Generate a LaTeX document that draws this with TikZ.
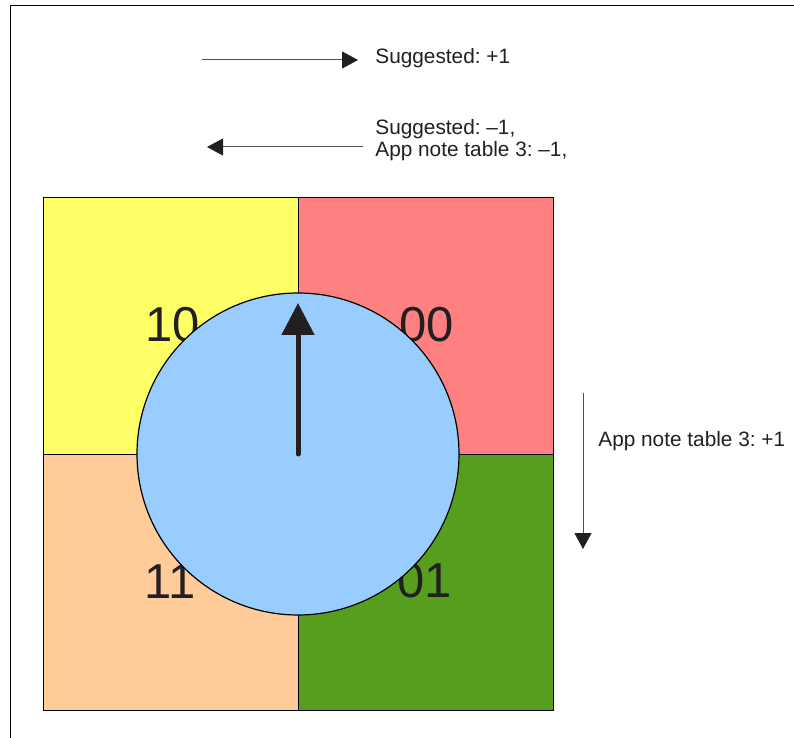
\documentclass[tikz,border=0pt]{standalone}
\usepackage{fontspec}
\setmainfont{Liberation Sans}
\usetikzlibrary{arrows.meta}
\definecolor{quadyellow}{RGB}{255,255,102}
\definecolor{quadred}{RGB}{255,128,128}
\definecolor{quadpeach}{RGB}{255,204,153}
\definecolor{quadgreen}{RGB}{88,158,30}
\definecolor{dialblue}{RGB}{153,204,255}
\definecolor{inkgray}{RGB}{35,31,32}
\frenchspacing

\begin{document}
\begin{tikzpicture}[x=0.5pt,y=-0.5pt,
    note/.style={anchor=base west,inner sep=0pt,align=left,text=inkgray,
      font=\fontsize{10.4pt}{11.35pt}\selectfont},
    code/.style={inner sep=0pt,text=inkgray,font=\fontsize{24.5pt}{28pt}\selectfont},
    turn/.style={draw=inkgray!80,line width=0.5pt,-{Triangle[length=8pt,width=8.5pt,color=inkgray]}},
    quad/.style={draw=black,line width=0.5pt}]
        \useasboundingbox (0,0) rectangle (794,738);
        \draw[line width=0.7pt] (10.5,738) -- (10.5,5.5) -- (794,5.5);
        \filldraw[quad,fill=quadyellow] (43,198) rectangle (298,454);
        \filldraw[quad,fill=quadred] (298,198) rectangle (553,454);
        \filldraw[quad,fill=quadpeach] (43,454) rectangle (298,710);
        \filldraw[quad,fill=quadgreen] (298,454) rectangle (553,710);
        \node[code] (q10) at (173,325) {10};
        \node[code] (q00) at (427,325) {00};
        \node[code] (q11) at (170,582) {11};
        \node[code] (q01) at (425,581) {01};
        \node[circle,draw=black,line width=0.6pt,fill=dialblue,minimum size=161pt,inner sep=0pt] (dial) at (298,454) {};
        \coordinate (tip) at (298,303);
        \draw[draw=inkgray,line width=2.5pt,line cap=round,-{Triangle[length=16pt,width=16pt]}] (dial.center) -- (tip);
        \coordinate (plusa) at (202,60);
        \coordinate (plusb) at (358,60);
        \draw[turn] (plusa) -- (plusb);
        \node[note] (sugplus) at (375,64) {Suggested: +1};
        \coordinate (minusa) at (363,147);
        \coordinate (minusb) at (207,147);
        \draw[turn] (minusa) -- (minusb);
        \node[note] (sugminus) at (375,157) {Suggested: --1,\\App note table 3: --1,};
        \coordinate (downa) at (583,393);
        \coordinate (downb) at (583,549);
        \draw[turn] (downa) -- (downb);
        \node[note] (appplus) at (598,446) {App note table 3: +1};
\end{tikzpicture}
\end{document}
